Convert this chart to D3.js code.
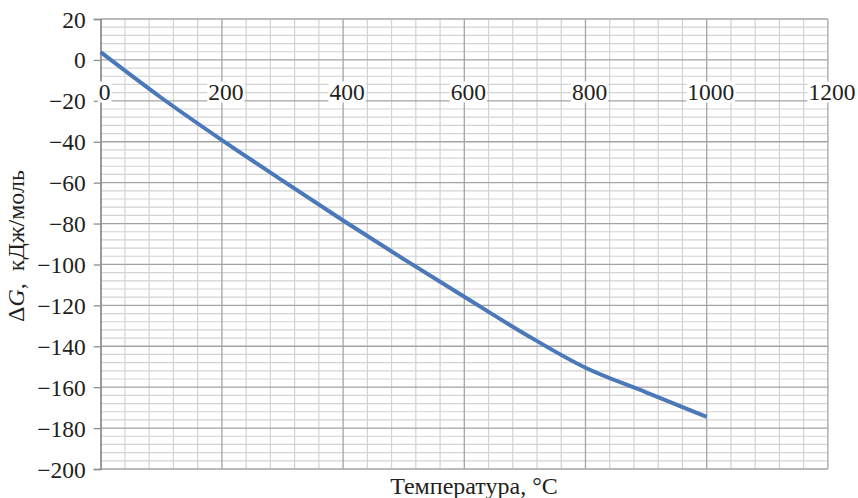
<!DOCTYPE html>
<html><head><meta charset="utf-8">
<script src="https://cdn.jsdelivr.net/npm/d3@7"></script>
<style>body{margin:0;background:#fff}svg{display:block}text{font-family:"Liberation Serif","Times New Roman",serif;fill:#231f20}</style>
</head><body><svg id="c" width="858" height="498"></svg>
<script>
const temps = [0, 100, 200, 300, 400, 500, 600, 700, 800, 900, 1000];
const dG = [3.8, -18.5, -39.2, -59, -78.5, -97.4, -115.8, -134, -150.5, -162.5, -174.5];
const xTicks = [0, 200, 400, 600, 800, 1000, 1200];
const yTicks = [20, 0, -20, -40, -60, -80, -100, -120, -140, -160, -180, -200];
const xTitle = "Температура, °C";

const svg = d3.select("#c");
const x = d3.scaleLinear().domain([0, 1200]).range([100.7, 827.9]);
const y = d3.scaleLinear().domain([-200, 20]).range([469, 19]);
const fmt = v => (v < 0 ? "\u2212" + Math.abs(v) : String(v));

const g = svg.append("g");
// minor grid
d3.range(0, 1201, 40).filter(v => v % 200 !== 0).forEach(v => {
  g.append("line").attr("x1", x(v)).attr("x2", x(v)).attr("y1", y(20)).attr("y2", y(-200))
   .attr("stroke", "#d3d3d5").attr("stroke-width", 1.2);
});
d3.range(-200, 21, 4).filter(v => v % 20 !== 0).forEach(v => {
  g.append("line").attr("x1", x(0)).attr("x2", x(1200)).attr("y1", y(v)).attr("y2", y(v))
   .attr("stroke", "#d3d3d5").attr("stroke-width", 1.2);
});
// major grid
xTicks.forEach(v => {
  g.append("line").attr("x1", x(v)).attr("x2", x(v)).attr("y1", y(20)).attr("y2", y(-200))
   .attr("stroke", "#a4a4a6").attr("stroke-width", 1.3);
});
yTicks.forEach(v => {
  g.append("line").attr("x1", x(0)).attr("x2", x(1200)).attr("y1", y(v)).attr("y2", y(v))
   .attr("stroke", "#a4a4a6").attr("stroke-width", 1.3);
});

// y axis
const yAxis = d3.axisLeft(y).tickValues(yTicks).tickSize(7).tickPadding(8).tickFormat(fmt);
const ya = svg.append("g").attr("transform", `translate(${x(0)},0)`).call(yAxis);
ya.attr("font-family", null).attr("font-size", null);
ya.select(".domain").attr("stroke", "#8e8e90").attr("stroke-width", 1.3);
ya.selectAll(".tick line").attr("stroke", "#8e8e90").attr("stroke-width", 1.3);
ya.selectAll(".tick text").attr("font-size", 23.5).attr("dy", "0.34em").attr("fill", "#231f20");

// x tick labels with white backgrounds
const xl = svg.append("g");
xTicks.forEach(v => {
  const t = xl.append("text").attr("x", x(v) + 4).attr("y", 99.5)
    .attr("text-anchor", "middle").attr("font-size", 23.5).text(fmt(v));
  const b = t.node().getBBox();
  xl.insert("rect", "text").attr("x", b.x - 1).attr("y", b.y + 3).attr("width", b.width + 2)
    .attr("height", b.height - 5).attr("fill", "#fff");
});

// line
const line = d3.line().x((d, i) => x(temps[i])).y(d => y(d)).curve(d3.curveMonotoneX);
svg.append("path").datum(dG).attr("d", line).attr("fill", "none")
  .attr("stroke", "#4a78b8").attr("stroke-width", 4).attr("stroke-linecap", "butt");

// titles
svg.append("text").attr("x", 474).attr("y", 494).attr("text-anchor", "middle")
  .attr("font-size", 24).text(xTitle);
const yt = svg.append("text").attr("transform", "translate(24,246) rotate(-90)")
  .attr("text-anchor", "middle").attr("font-size", 24);
yt.append("tspan").text("\u0394");
yt.append("tspan").attr("font-style", "italic").text("G");
yt.append("tspan").text(",\u00A0\u00A0кДж/моль");
</script></body></html>
